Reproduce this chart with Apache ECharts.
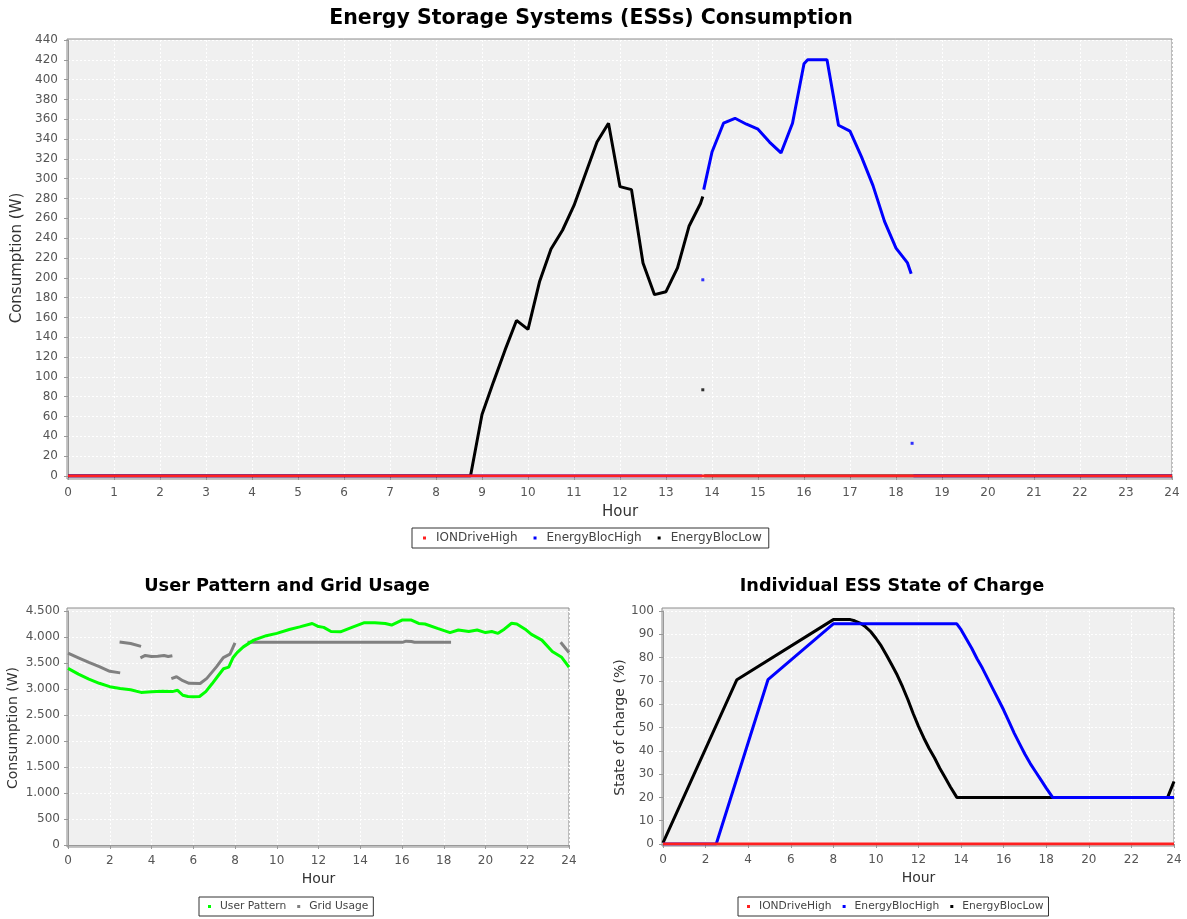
<!DOCTYPE html>
<html>
<head>
<meta charset="utf-8">
<title>ESS Consumption Dashboard</title>
<script src="https://cdn.jsdelivr.net/npm/echarts@6/dist/echarts.min.js"></script>
<style>
  html, body { margin: 0; padding: 0; background: #ffffff; }
  #chart { width: 1187px; height: 919px; }
</style>
</head>
<body>
<div id="chart"></div>
<script>
// ---- ESS consumption (W) per hour ----
const ionHours = [0, 24];
const ionValues = [0, 0];

const blocHighHours = [0, 13.78, 13.8, 13.82, 14, 14.25, 14.5, 14.75, 15, 15.25, 15.5, 15.75, 16, 16.08, 16.25, 16.5, 16.75, 17, 17.25, 17.5, 17.75, 18, 18.25, 18.33, 18.35, 18.38, 24];
const blocHighValues = [0, 0, null, 289, 327, 356, 361, 355, 350, 337, 326, 356, 416, 420, 420, 420, 354, 348, 322, 293, 257, 230, 215, 204, null, 0, 0];
const blocHighSpotHours = [13.8, 18.35];
const blocHighSpotValues = [198, 33];

const blocLowHours = [0, 8.75, 9, 9.25, 9.5, 9.75, 10, 10.25, 10.5, 10.75, 11, 11.25, 11.5, 11.75, 12, 12.25, 12.5, 12.75, 13, 13.25, 13.5, 13.75, 13.8, 13.81, 13.83, 24];
const blocLowValues = [0, 0, 62, 95, 127, 157, 148, 196, 229, 248, 273, 305, 337, 356, 292, 289, 215, 183, 186, 210, 252, 275, 282, null, 0, 0];
const blocLowSpotHours = [13.8];
const blocLowSpotValues = [87];

// ---- User pattern and grid usage (W) ----
const userHours = [0, 0.5, 1, 1.5, 2, 2.5, 3, 3.5, 4, 4.5, 5, 5.25, 5.5, 5.75, 6, 6.3, 6.6, 6.9, 7.2, 7.45, 7.7, 7.9, 8.1, 8.4, 8.9, 9.5, 10, 10.6, 11.1, 11.7, 12, 12.25, 12.6, 13.05, 13.6, 14.2, 14.7, 15.2, 15.5, 16, 16.45, 16.8, 17.1, 17.7, 18.3, 18.7, 19.2, 19.6, 20, 20.3, 20.6, 20.9, 21.25, 21.5, 21.9, 22.2, 22.7, 23.2, 23.65, 24];
const userValues = [3397, 3285, 3190, 3110, 3045, 3010, 2985, 2935, 2945, 2955, 2950, 2975, 2880, 2855, 2850, 2855, 2950, 3100, 3260, 3390, 3420, 3600, 3700, 3810, 3940, 4025, 4070, 4145, 4195, 4260, 4200, 4185, 4105, 4100, 4185, 4275, 4275, 4260, 4230, 4325, 4325, 4260, 4250, 4165, 4085, 4135, 4105, 4135, 4085, 4105, 4070, 4150, 4265, 4250, 4150, 4050, 3940, 3720, 3610, 3420];

const gridHours = [0, 0.5, 1, 1.5, 2, 2.5, 2.49, 2.47, 3, 3.5, 3.49, 3.47, 3.7, 4, 4.3, 4.6, 4.8, 5, 4.98, 4.95, 5.2, 5.5, 5.8, 6.33, 6.65, 7.12, 7.44, 7.76, 7.85, 8, 8.4, 8.6, 16.05, 16.2, 16.45, 16.6, 18.35, 21, 23.6, 24];
const gridValues = [3690, 3600, 3510, 3430, 3340, 3310, null, 3905, 3875, 3820, null, 3600, 3645, 3625, 3630, 3645, 3625, 3640, null, 3200, 3235, 3160, 3110, 3105, 3205, 3430, 3605, 3670, 3690, 3885, null, 3900, 3900, 3920, 3915, 3900, 3900, null, 3900, 3700];

// ---- Individual ESS state of charge (%) ----
const ionSocHours = [0, 24];
const ionSocValues = [0, 0];
const blocHighSocHours = [0, 2.5, 4.93, 8, 13.8, 14, 14.25, 14.5, 14.75, 15, 15.25, 15.5, 15.75, 16, 16.25, 16.5, 16.75, 17, 17.25, 17.5, 17.75, 18, 18.3, 24];
const blocHighSocValues = [0, 0, 70.5, 94.5, 94.5, 92, 88, 84, 79.5, 75.5, 71, 66.5, 62, 57.5, 52.5, 47.5, 43, 38.5, 34.5, 31, 27.5, 24, 20, 20];
const blocLowSocHours = [0, 3.47, 8, 8.8, 9, 9.25, 9.5, 9.75, 10, 10.25, 10.5, 10.75, 11, 11.25, 11.5, 11.75, 12, 12.25, 12.5, 12.75, 13, 13.25, 13.5, 13.8, 23.7, 24];
const blocLowSocValues = [0.5, 70.5, 96.3, 96.3, 95.8, 94.8, 93.3, 91.2, 88.3, 85, 81, 76.8, 72.5, 67.5, 62, 56, 50.5, 45.5, 41, 37, 32.5, 28.5, 24.5, 20, 20, 26.8];

// ---- Tick settings ----
const hourTicksMain = { min: 0, max: 24, interval: 1 };
const hourTicksSmall = { min: 0, max: 24, interval: 2 };
const consumptionTicks = { min: 0, max: 440, interval: 20 };
const usageTicks = { min: 0, max: 4500, interval: 500 };
const socTicks = { min: 0, max: 100, interval: 10 };

const FONT = 'DejaVu Sans';
const RED = '#ff2020';
const BLUE = '#0000ff';
const BLACK = '#000000';
const GREEN = '#00ff00';
const GRAY = '#808080';

const pairs = (hs, vs) => hs.map((h, i) => [h, vs[i] === null ? '-' : vs[i]]);

// thousands separated with a dot
const dotThousands = v => {
  if (v < 1000) return String(v);
  return Math.floor(v / 1000) + '.' + String(v % 1000).padStart(3, '0');
};

function valueAxis(gridIndex, ticks, extra) {
  return Object.assign({
    type: 'value',
    gridIndex: gridIndex,
    min: ticks.min,
    max: ticks.max,
    interval: ticks.interval,
    axisLine: { show: true, lineStyle: { color: '#999999', width: 1 } },
    axisTick: { show: true, length: 4, lineStyle: { color: '#999999' } },
    axisLabel: { color: '#555555', fontFamily: FONT, fontSize: 12 },
    splitLine: { show: true, lineStyle: { color: '#ffffff', width: 1, type: [2, 2] } },
    nameLocation: 'middle',
    nameTextStyle: { color: '#333333', fontFamily: FONT, fontSize: 14 }
  }, extra);
}

function frameAxis(gridIndex) {
  return { type: 'value', gridIndex: gridIndex, min: 0, max: 1, show: false };
}

function lineSeries(name, color, width, xi, hs, vs, z) {
  return {
    name: name, type: 'line', xAxisIndex: xi, yAxisIndex: xi,
    data: pairs(hs, vs), showSymbol: false, symbol: 'none',
    connectNulls: false, color: color,
    lineStyle: { color: color, width: width }, z: z, silent: true
  };
}

function spotSeries(name, color, xi, hs, vs, z) {
  return {
    name: name, type: 'scatter', xAxisIndex: xi, yAxisIndex: xi,
    data: pairs(hs, vs), symbol: 'rect', symbolSize: 3, color: color,
    itemStyle: { color: color }, z: z, silent: true
  };
}

const legendBase = {
  orient: 'horizontal',
  icon: 'rect',
  itemWidth: 3,
  itemHeight: 3,
  itemGap: 16,
  borderColor: '#333333',
  borderWidth: 1,
  borderRadius: 0,
  padding: [4, 7, 4, 11],
  textStyle: { color: '#444444', fontFamily: FONT, fontSize: 12, padding: [0, 0, 0, 5] },
  selectedMode: false
};

const smallLegend = Object.assign({}, legendBase, {
  itemGap: 11,
  padding: [4, 5, 4, 9],
  textStyle: { color: '#444444', fontFamily: FONT, fontSize: 10.7, padding: [0, 0, 0, 4] }
});

const frameGrid = (l, t, w, h) => ({
  left: l, top: t, width: w, height: h, show: true,
  backgroundColor: '#f0f0f0', borderColor: '#8c8c8c', borderWidth: 1, z: -1
});

const option = {
  animation: false,
  backgroundColor: '#ffffff',
  textStyle: { fontFamily: FONT },
  title: [
    { text: 'Energy Storage Systems (ESSs) Consumption', left: 591, top: 8, textAlign: 'center', padding: 0,
      textStyle: { fontFamily: FONT, fontSize: 20.5, fontWeight: 'bold', color: '#000000' } },
    { text: 'User Pattern and Grid Usage', left: 287, top: 577, textAlign: 'center', padding: 0,
      textStyle: { fontFamily: FONT, fontSize: 17.7, fontWeight: 'bold', color: '#000000' } },
    { text: 'Individual ESS State of Charge', left: 892, top: 577, textAlign: 'center', padding: 0,
      textStyle: { fontFamily: FONT, fontSize: 17.7, fontWeight: 'bold', color: '#000000' } }
  ],
  legend: [
    Object.assign({}, legendBase, { left: 412, top: 528, data: ['IONDriveHigh', 'EnergyBlocHigh', 'EnergyBlocLow'] }),
    Object.assign({}, smallLegend, { left: 199, top: 897, data: ['User Pattern', 'Grid Usage'] }),
    Object.assign({}, smallLegend, { left: 738, top: 897, data: ['IONDriveHigh', 'EnergyBlocHigh', 'EnergyBlocLow'] })
  ],
  grid: [
    // plotting areas
    { left: 68, top: 40, width: 1104, height: 436, show: false },
    { left: 68, top: 611, width: 501, height: 234, show: false },
    { left: 663, top: 611, width: 511, height: 233, show: false },
    // plot backgrounds and borders
    frameGrid(67, 39, 1105, 440),
    frameGrid(67, 608, 502, 239),
    frameGrid(662, 608, 512, 238)
  ],
  xAxis: [
    valueAxis(0, hourTicksMain, { offset: 3, name: 'Hour', nameGap: 26,
      axisLabel: { color: '#555555', fontFamily: FONT, fontSize: 12, margin: 8 },
      nameTextStyle: { color: '#333333', fontFamily: FONT, fontSize: 15 } }),
    valueAxis(1, hourTicksSmall, { offset: 2, name: 'Hour', nameGap: 25,
      axisLabel: { color: '#555555', fontFamily: FONT, fontSize: 12, margin: 8 } }),
    valueAxis(2, hourTicksSmall, { offset: 2, name: 'Hour', nameGap: 25,
      axisLabel: { color: '#555555', fontFamily: FONT, fontSize: 12, margin: 8 } }),
    frameAxis(3), frameAxis(4), frameAxis(5)
  ],
  yAxis: [
    valueAxis(0, consumptionTicks, { name: 'Consumption (W)', nameGap: 43,
      axisLabel: { color: '#555555', fontFamily: FONT, fontSize: 12, margin: 10 },
      nameTextStyle: { color: '#333333', fontFamily: FONT, fontSize: 15 } }),
    valueAxis(1, usageTicks, { name: 'Consumption (W)', nameGap: 48,
      axisLabel: { color: '#555555', fontFamily: FONT, fontSize: 12, margin: 8, formatter: dotThousands } }),
    valueAxis(2, socTicks, { name: 'State of charge (%)', nameGap: 36,
      axisLabel: { color: '#555555', fontFamily: FONT, fontSize: 12, margin: 9 } }),
    frameAxis(3), frameAxis(4), frameAxis(5)
  ],
  series: [
    // consumption
    lineSeries('EnergyBlocLow', BLACK, 3, 0, blocLowHours, blocLowValues, 2),
    spotSeries('EnergyBlocLow', BLACK, 0, blocLowSpotHours, blocLowSpotValues, 2),
    lineSeries('EnergyBlocHigh', BLUE, 3, 0, blocHighHours, blocHighValues, 3),
    spotSeries('EnergyBlocHigh', BLUE, 0, blocHighSpotHours, blocHighSpotValues, 3),
    lineSeries('IONDriveHigh', RED, 3, 0, ionHours, ionValues, 4),
    // user pattern and grid usage
    lineSeries('Grid Usage', GRAY, 3, 1, gridHours, gridValues, 2),
    lineSeries('User Pattern', GREEN, 3, 1, userHours, userValues, 3),
    // state of charge
    lineSeries('EnergyBlocLow', BLACK, 3, 2, blocLowSocHours, blocLowSocValues, 2),
    lineSeries('EnergyBlocHigh', BLUE, 3, 2, blocHighSocHours, blocHighSocValues, 3),
    lineSeries('IONDriveHigh', RED, 3, 2, ionSocHours, ionSocValues, 4)
  ]
};

const chart = echarts.init(document.getElementById('chart'), null, { renderer: 'canvas' });
chart.setOption(option);
</script>
</body>
</html>
